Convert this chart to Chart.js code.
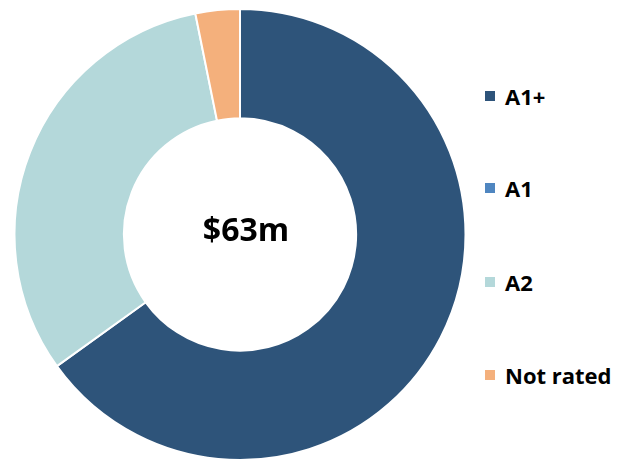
<!DOCTYPE html>
<html>
<head>
<meta charset="utf-8">
<script src="https://cdn.jsdelivr.net/npm/chart.js@4/dist/chart.umd.min.js"></script>
<style>
  html, body { margin: 0; padding: 0; background: #fff; }
  #wrap { position: relative; width: 628px; height: 461px; overflow: hidden; }
  #chartBox { position: absolute; left: 0; top: 0; width: 480px; height: 461px; }
  #center { position: absolute; left: 246px; top: 231px; transform: translate(-50%, -56%);
    font-family: "Open Sans", sans-serif; font-weight: 700; font-size: 32px; color: #000; white-space: nowrap; }
  #legend { position: absolute; left: 485px; top: 0; font-family: "Open Sans", sans-serif; font-weight: 700;
    font-size: 22px; color: #000; }
  .item { position: absolute; left: 0; display: flex; align-items: center; white-space: nowrap; transform: translateY(-50%); }
  .box { width: 10px; height: 10px; margin-right: 10px; flex: none; }
</style>
</head>
<body>
<div id="wrap">
  <div id="chartBox"><canvas id="c"></canvas></div>
  <div id="center"></div>
  <div id="legend"></div>
</div>
<script>
const categories = ["A1+", "A1", "A2", "Not rated"];
const values = [41, 0, 20, 2];
const colors = ["#2E547A", "#4F86C0", "#B4D8DA", "#F4B07C"];
const centerLabel = "$63m";

document.getElementById('center').textContent = centerLabel;

const legendY = [96, 188, 282, 375];
const legend = document.getElementById('legend');
categories.forEach((cat, i) => {
  const item = document.createElement('div');
  item.className = 'item';
  item.style.top = legendY[i] + 'px';
  const box = document.createElement('span');
  box.className = 'box';
  box.style.background = colors[i];
  const txt = document.createElement('span');
  txt.textContent = cat;
  item.appendChild(box);
  item.appendChild(txt);
  legend.appendChild(item);
});

new Chart(document.getElementById('c'), {
  type: 'doughnut',
  data: {
    labels: categories,
    datasets: [{
      data: values,
      backgroundColor: colors,
      borderColor: '#ffffff',
      borderWidth: 2
    }]
  },
  options: {
    responsive: true,
    maintainAspectRatio: false,
    animation: false,
    cutout: '51.5%',
    layout: { padding: { top: 8, bottom: 0, left: 0, right: 0 } },
    plugins: {
      legend: { display: false },
      tooltip: { enabled: false }
    }
  }
});
</script>
</body>
</html>
